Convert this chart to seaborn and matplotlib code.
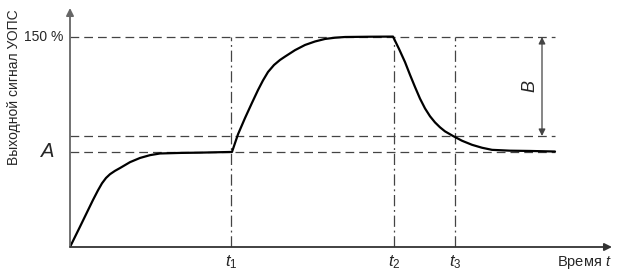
import matplotlib
matplotlib.use("Agg")
import matplotlib.pyplot as plt
import seaborn as sns
import pandas as pd

# --- data (time in arbitrary units, signal in %) ---
time = [0, 10, 23, 28, 32, 36, 40, 45, 50, 60, 70, 80, 90, 110, 130, 162,
        168, 175, 182, 188, 193, 198, 204, 210, 215, 225, 235, 245, 255, 265, 275, 300, 323,
        329, 335, 340, 345, 350, 355, 360, 365, 370, 375, 383, 392, 402, 412, 422, 440, 460, 485]
signal = [0, 14.5, 33.6, 40.5, 45.5, 49.3, 52.0, 54.4, 56.4, 60.6, 63.6, 65.6, 66.8, 67.2, 67.4, 67.9,
          80.5, 92.1, 103.0, 112.1, 119.0, 125.0, 130.0, 133.6, 136.0, 140.6, 144.3, 146.8, 148.6, 149.5, 150.0, 150.2, 150.3,
          141.5, 132.1, 123.0, 114.3, 106.0, 99.0, 93.4, 89.0, 85.5, 82.6, 79.3, 75.9, 73.0, 70.9, 69.4, 68.8, 68.6, 68.2]

t_marks = [161, 324, 385]
t_labels = ["$t_1$", "$t_2$", "$t_3$"]
level_150 = 150
level_A = 68
level_B_low = 79.3
x_end = 485

df = pd.DataFrame({"time": time, "signal": signal})

sns.set_theme(style="white")
plt.rcParams["font.family"] = ["Liberation Sans", "DejaVu Sans"]
plt.rcParams["mathtext.fontset"] = "custom"
plt.rcParams["mathtext.it"] = "Liberation Sans:italic"
plt.rcParams["mathtext.rm"] = "Liberation Sans"

fig = plt.figure(figsize=(6.2, 2.73), dpi=100)
ax = fig.add_axes([70 / 620, 26 / 273, 542 / 620, 239 / 273])
ax.set_xlim(0, 542)
ax.set_ylim(0, 239 / 1.4)
for s in ax.spines.values():
    s.set_visible(False)
ax.set_xticks([])
ax.set_yticks([])

dash_col = "#444444"
# horizontal dashed guides
for lv in [level_150, level_B_low, level_A]:
    ax.plot([0, x_end], [lv, lv], color=dash_col, lw=0.9, dashes=(7, 4))
# vertical dash-dot guides
for tm in t_marks:
    ax.plot([tm, tm], [0, level_150], color=dash_col, lw=0.9, dashes=(9, 3, 1.5, 3))

# curve
sns.lineplot(data=df, x="time", y="signal", ax=ax, color="black", lw=1.6)
ax.set_xlabel("")
ax.set_ylabel("")

# axes with arrows
ax.annotate("", xy=(0, 239 / 1.4), xytext=(0, 0),
            arrowprops=dict(arrowstyle="-|>", color="#666666", lw=1.3,
                            mutation_scale=11, shrinkA=0, shrinkB=0), annotation_clip=False)
ax.annotate("", xy=(542, 0), xytext=(0, 0),
            arrowprops=dict(arrowstyle="-|>", color="#333333", lw=1.3,
                            mutation_scale=11, shrinkA=0, shrinkB=0), annotation_clip=False)

# B arrow
ax.annotate("", xy=(472, level_150), xytext=(472, level_B_low),
            arrowprops=dict(arrowstyle="<|-|>", color="#444444", lw=0.9,
                            mutation_scale=10, shrinkA=0, shrinkB=0))
ax.text(460, (level_150 + level_B_low) / 2, "B", rotation=90, fontsize=13,
        style="italic", ha="center", va="center")

# labels
ax.text(-7, level_150, "150 %", fontsize=10, ha="right", va="center")
ax.text(-22, level_A, "A", fontsize=14.5, style="italic", ha="center", va="center")
for tm, lab in zip(t_marks, t_labels):
    ax.text(tm, -11, lab, fontsize=12, ha="center", va="center")
ax.text(542, -11, "Время $t$", fontsize=10.5, ha="right", va="center")
fig.text(14 / 620, 1 - 87 / 273, "Выходной сигнал УОПС", rotation=90,
         fontsize=10, ha="center", va="center")

fig.savefig("out.png", dpi=100)
